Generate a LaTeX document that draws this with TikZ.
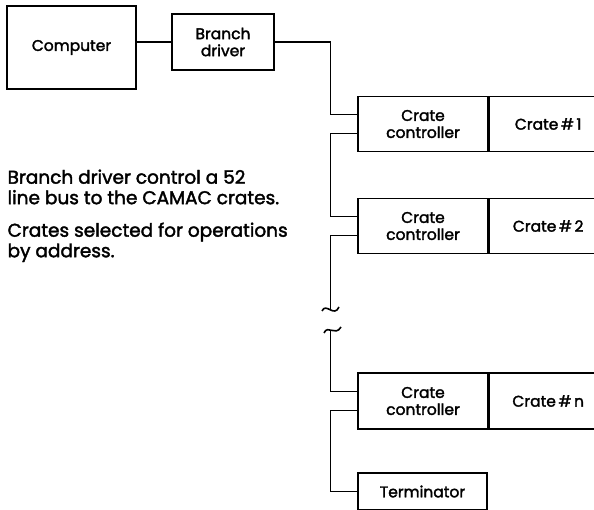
\documentclass[tikz,border=0pt]{standalone}
\usepackage{fontspec}
\setmainfont{Poppins}
\newfontfamily\diagfont{Poppins}[FakeBold=2]
\usetikzlibrary{positioning}
\begin{document}
\begin{tikzpicture}[x=1pt, y=-1pt, line width=1.2pt, node distance=0pt,
  box/.style={draw, rectangle, align=center, inner sep=0pt, font=\diagfont\fontsize{15.5}{17}\selectfont},
  note/.style={align=left, anchor=north west, inner sep=0pt, font=\diagfont\fontsize{18.5}{20.5}\selectfont}]
\clip (0,0) rectangle (594,510);
\node[box, minimum width=129pt, minimum height=83pt] (comp) at (71.5,47.5) {Computer};
\node[box, minimum width=102pt, minimum height=56pt] (bd) at (223,42) {Branch\\driver};
\node[box, minimum width=130pt, minimum height=55pt] (cc1) at (423,124) {Crate\\controller};
\node[box, minimum width=118pt, minimum height=55pt, right=of cc1] (cr1) {Crate\,\#\,1};
\node[box, minimum width=130pt, minimum height=55pt] (cc2) at (423,226) {Crate\\controller};
\node[box, minimum width=118pt, minimum height=55pt, right=of cc2] (cr2) {Crate\,\#\,2};
\node[box, minimum width=130pt, minimum height=56pt] (ccn) at (423,401) {Crate\\controller};
\node[box, minimum width=118pt, minimum height=56pt, right=of ccn] (crn) {Crate\,\#\,n};
\node[box, minimum width=129pt, minimum height=37pt] (term) at (422.5,491.5) {Terminator};
\node[note] (txt1) at (7,169) {Branch driver control a 52\\line bus to the CAMAC crates.};
\node[note] (txt2) at (7,222) {Crates selected for operations\\by address.};
% bus wiring
\coordinate (bus) at (330.5,0);
\coordinate (in1) at ([yshift=9.5pt]cc1.west);
\coordinate (out1) at ([yshift=-9.5pt]cc1.west);
\coordinate (in2) at ([yshift=9.5pt]cc2.west);
\coordinate (out2) at ([yshift=-9.5pt]cc2.west);
\coordinate (inn) at ([yshift=9.5pt]ccn.west);
\coordinate (outn) at ([yshift=-9.5pt]ccn.west);
\coordinate (brk1) at (330.5,309);
\coordinate (brk2) at (330.5,330);
\draw (bd.west) -- (bd.west -| comp.east);
\draw (bd.east) -| (bus |- in1) -- (in1);
\draw (out1) -| (bus |- in2) -- (in2);
\draw (out2) -| (brk1);
\draw (brk2) |- (inn);
\draw (outn) -| (bus |- term.west) -- (term.west);
% break marks
\draw[line width=1.6pt] (322,311) .. controls (326,302) and (334,318) .. (339,307);
\draw[line width=1.6pt] (324,333) .. controls (328,324) and (335,337) .. (341,327);
\end{tikzpicture}
\end{document}
